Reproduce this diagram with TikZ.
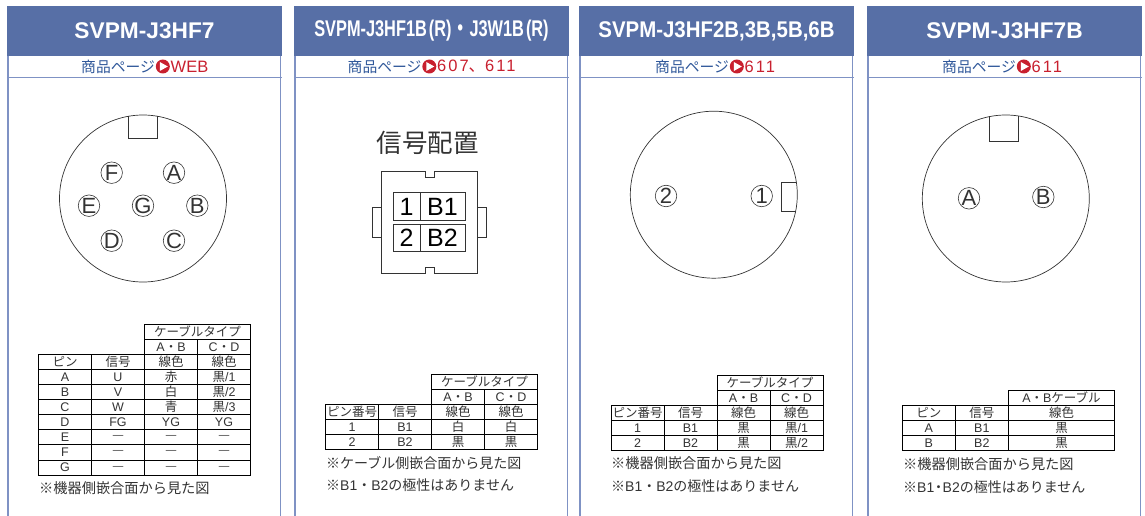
\documentclass[tikz,border=0pt]{standalone}
\usepackage{fontspec}
\setmainfont{Liberation Sans}
\newfontfamily\jp{Noto Sans CJK JP}
\usetikzlibrary{positioning}
\definecolor{hdrblue}{HTML}{576FA6}
\definecolor{sideblue}{HTML}{7F92C4}
\definecolor{pageblue}{HTML}{30589A}
\definecolor{pagered}{HTML}{C8202F}
\definecolor{inkgray}{HTML}{333333}
\newcommand{\ku}{{\jp 黒}}
\newcommand{\naka}{{\jp ・}}
\newcommand{\px}[1]{\fontsize{#1}{#1}\selectfont}
\newcommand{\bou}{{\px{10.5}---}}
\newcommand{\wide}[1]{{\addfontfeature{LetterSpace=12}#1}}
\tikzset{
    %Define style for panel heads
    hdrbox/.style={
           fill=hdrblue,
           text=white,
           inner sep=0pt,
           minimum width=275pt,
           minimum height=50pt,
           font=\px{22.7}\bfseries},
    % Define styles for table cells
    tcell/.style={
           draw=black,
           line width=.9pt,
           text=inkgray,
           inner sep=0pt,
           outer sep=0pt,
           minimum width=53pt,
           minimum height=15.1pt,
           font=\px{12.5}},
    tnote/.style={
           anchor=west,
           inner sep=0pt,
           text=inkgray,
           font=\px{14.2}},
    pinmark/.style={
           circle,
           draw=inkgray,
           line width=.6pt,
           inner sep=-2pt,
           minimum size=21.5pt,
           text=inkgray,
           font=\px{22}},
    plug/.style={
           draw=inkgray,
           line width=.7pt},
    sigcell/.style={
           draw=inkgray,
           line width=.6pt,
           inner sep=0pt,
           outer sep=0pt,
           minimum height=27.5pt,
           text=black,
           font=\px{25}},
    playdot/.style={
           circle,
           fill=pagered,
           inner sep=0pt,
           minimum size=14pt},
}
% page reference row: name, left edge, red text
\newcommand{\pagerow}[3]{
  \node[anchor=west,inner sep=0pt,text=pageblue,font=\px{14.8}\jp] (#1) at (#2,66.5) {商品ページ};
  \node[playdot,right=0.5pt of #1] (#1dot) {};
  \fill[white] ([shift={(-3,-4.5)}]#1dot.center) -- ++(8,4.5) -- ++(-8,4.5) -- cycle;
  \node[right=0.5pt of #1dot,inner sep=0pt,text=pagered,font=\px{16.5}] (#1no) {#3};
}
\begin{document}
\begin{tikzpicture}[x=1pt,y=-1pt]
  \useasboundingbox (0,0) rectangle (1145,516);
  %panels
  \foreach \n/\x/\t in {1/144.5/{SVPM-J3HF7},
      2/431.5/{\scalebox{.72}[1]{SVPM-J3HF1B\hspace{.12em}(R)\hspace{.05em}{\jp ・}\hspace{.05em}J3W1B\hspace{.12em}(R)}},
      3/716.5/{\scalebox{.9}[1]{SVPM-J3HF2B,3B,5B,6B}},
      4/1004.5/{SVPM-J3HF7B}} {
    \node[hdrbox] (hdr\n) at (\x,31) {\t};
    \coordinate (low\n) at (\x,77.3);
    \draw[sideblue,line width=1.4pt] ([xshift=1pt]hdr\n.south west) -- ([xshift=1pt]hdr\n.south west |- 0,516);
    \draw[sideblue,line width=1.4pt] ([xshift=-1.5pt]hdr\n.south east) -- ([xshift=-1.5pt]hdr\n.south east |- 0,516);
    \draw[sideblue,line width=.8pt] (hdr\n.west |- low\n) -- (hdr\n.east |- low\n);
  }
  \pagerow{page1}{81}{WEB}
  \pagerow{page2}{347.5}{\wide{607}{\jp 、}\wide{611}}
  \pagerow{page3}{655}{\wide{611}}
  \pagerow{page4}{942}{\wide{611}}

  %first connector
  \node[circle,plug,inner sep=0pt,minimum size=167pt] (round1) at (143,198.5) {};
  \draw[plug] (128.3,116.4) -- (128.3,138.3) -- (157.3,138.3) -- (157.3,116.4);
  \foreach \p/\x/\y in {F/111.7/172.7,A/174/172.7,E/89/205.7,G/143/205.7,B/197.3/205.7,D/111.7/240.7,C/174/240.7}
    \node[pinmark] (pin\p) at (\x,\y) {\p};

  %second connector
  \node[inner sep=0pt,text=inkgray,font=\px{25.5}\jp] (sigtitle) at (427.7,143.3) {信号配置};
  \draw[plug] (381.7,171.7) -- (425,171.7) -- (425,177) -- (434.3,177) -- (434.3,171.7) -- (477.7,171.7)
     -- (477.7,273.3) -- (434.3,273.3) -- (434.3,267.3) -- (425,267.3) -- (425,273.3) -- (381.7,273.3) -- cycle;
  \draw[plug] (381.7,207) -- (372.7,207) -- (372.7,237) -- (381.7,237);
  \draw[plug] (477.7,207) -- (486.7,207) -- (486.7,237) -- (477.7,237);
  \node[sigcell,minimum width=26.7pt] (sig1) at (406.6,206.5) {1};
  \node[sigcell,minimum width=45pt,right=0pt of sig1] (sigB1) {B1\hspace{4pt}};
  \node[sigcell,minimum width=26.7pt] (sig2) at (406.6,238) {2};
  \node[sigcell,minimum width=45pt,right=0pt of sig2] (sigB2) {B2\hspace{4pt}};

  %third connector
  \node[circle,plug,inner sep=0pt,minimum size=167pt] (round3) at (713.8,194.7) {};
  \draw[plug] (796.1,182.7) -- (781.7,182.7) -- (781.7,211) -- (796.1,211);
  \node[pinmark] (pin2) at (666,196) {2};
  \node[pinmark] (pin1) at (761.7,196) {1};

  %fourth connector
  \node[circle,plug,inner sep=0pt,minimum size=167pt] (round4) at (1005.8,198.5) {};
  \draw[plug] (989.3,116.4) -- (989.3,141.3) -- (1018.7,141.3) -- (1018.7,116.4);
  \node[pinmark] (pinA4) at (969,198.3) {A};
  \node[pinmark] (pinB4) at (1043.3,197) {B};

  %first table
  \node[tcell,anchor=north west] (t1a0) at (38.5,354.3) {\jp ピン};
  \node[tcell,right=0pt of t1a0] (t1b0) {\jp 信号};
  \node[tcell,right=0pt of t1b0] (t1c0) {\jp 線色};
  \node[tcell,right=0pt of t1c0] (t1d0) {\jp 線色};
  \foreach \r/\a/\b/\c/\d [remember=\r as \q (initially 0)] in {
      1/A/U/{\jp 赤}/{\ku/1}, 2/B/V/{\jp 白}/{\ku/2}, 3/C/W/{\jp 青}/{\ku/3},
      4/D/FG/YG/YG, 5/E/\bou/\bou/\bou, 6/F/\bou/\bou/\bou, 7/G/\bou/\bou/\bou} {
    \node[tcell,below=0pt of t1a\q] (t1a\r) {\a};
    \node[tcell,right=0pt of t1a\r] (t1b\r) {\b};
    \node[tcell,right=0pt of t1b\r] (t1c\r) {\c};
    \node[tcell,right=0pt of t1c\r] (t1d\r) {\d};
  }
  \node[tcell,above=0pt of t1c0] (t1ab) {A\naka B};
  \node[tcell,above=0pt of t1d0] (t1cd) {C\naka D};
  \node[tcell,minimum width=106pt,above right=0pt and 0pt of t1ab.north west] (t1top) {\jp ケーブルタイプ};
  \node[tnote] (n1a) at (39,488) {\jp ※機器側嵌合面から見た図};

  %second table
  \node[tcell,anchor=north west] (t2a0) at (325.5,404.3) {\jp ピン番号};
  \node[tcell,right=0pt of t2a0] (t2b0) {\jp 信号};
  \node[tcell,right=0pt of t2b0] (t2c0) {\jp 線色};
  \node[tcell,right=0pt of t2c0] (t2d0) {\jp 線色};
  \foreach \r/\a/\b/\c/\d [remember=\r as \q (initially 0)] in {1/1/B1/{\jp 白}/{\jp 白}, 2/2/B2/\ku/\ku} {
    \node[tcell,below=0pt of t2a\q] (t2a\r) {\a};
    \node[tcell,right=0pt of t2a\r] (t2b\r) {\b};
    \node[tcell,right=0pt of t2b\r] (t2c\r) {\c};
    \node[tcell,right=0pt of t2c\r] (t2d\r) {\d};
  }
  \node[tcell,above=0pt of t2c0] (t2ab) {A\naka B};
  \node[tcell,above=0pt of t2d0] (t2cd) {C\naka D};
  \node[tcell,minimum width=106pt,above right=0pt and 0pt of t2ab.north west] (t2top) {\jp ケーブルタイプ};
  \node[tnote,font=\px{14}] (n2a) at (326,463) {\jp ※ケーブル側嵌合面から見た図};
  \node[tnote,font=\px{14}] (n2b) at (326,485) {{\jp ※}B1\naka B2{\jp の極性はありません}};

  %third table
  \node[tcell,anchor=north west] (t3a0) at (611,405.5) {\jp ピン番号};
  \node[tcell,right=0pt of t3a0] (t3b0) {\jp 信号};
  \node[tcell,right=0pt of t3b0] (t3c0) {\jp 線色};
  \node[tcell,right=0pt of t3c0] (t3d0) {\jp 線色};
  \foreach \r/\a/\b/\c/\d [remember=\r as \q (initially 0)] in {1/1/B1/\ku/{\ku/1}, 2/2/B2/\ku/{\ku/2}} {
    \node[tcell,below=0pt of t3a\q] (t3a\r) {\a};
    \node[tcell,right=0pt of t3a\r] (t3b\r) {\b};
    \node[tcell,right=0pt of t3b\r] (t3c\r) {\c};
    \node[tcell,right=0pt of t3c\r] (t3d\r) {\d};
  }
  \node[tcell,above=0pt of t3c0] (t3ab) {A\naka B};
  \node[tcell,above=0pt of t3d0] (t3cd) {C\naka D};
  \node[tcell,minimum width=106pt,above right=0pt and 0pt of t3ab.north west] (t3top) {\jp ケーブルタイプ};
  \node[tnote] (n3a) at (611,463) {\jp ※機器側嵌合面から見た図};
  \node[tnote,font=\px{14}] (n3b) at (611,486) {{\jp ※}B1\naka B2{\jp の極性はありません}};

  %fourth table
  \node[tcell,anchor=north west] (t4a0) at (902.3,405.3) {\jp ピン};
  \node[tcell,right=0pt of t4a0] (t4b0) {\jp 信号};
  \node[tcell,minimum width=106.4pt,right=0pt of t4b0] (t4c0) {\jp 線色};
  \foreach \r/\a/\b/\c [remember=\r as \q (initially 0)] in {1/A/B1/\ku, 2/B/B2/\ku} {
    \node[tcell,below=0pt of t4a\q] (t4a\r) {\a};
    \node[tcell,right=0pt of t4a\r] (t4b\r) {\b};
    \node[tcell,minimum width=106.4pt,right=0pt of t4b\r] (t4c\r) {\c};
  }
  \node[tcell,minimum width=106.4pt,above=0pt of t4c0] (t4top) {A\naka B{\jp ケーブル}};
  \node[tnote] (n4a) at (903,464.3) {\jp ※機器側嵌合面から見た図};
  \node[tnote,font=\px{14}] (n4b) at (903,486.7) {{\jp ※}B1{\hspace{-.2em}\jp ・\hspace{-.2em}}B2{\jp の極性はありません}};
\end{tikzpicture}
\end{document}
